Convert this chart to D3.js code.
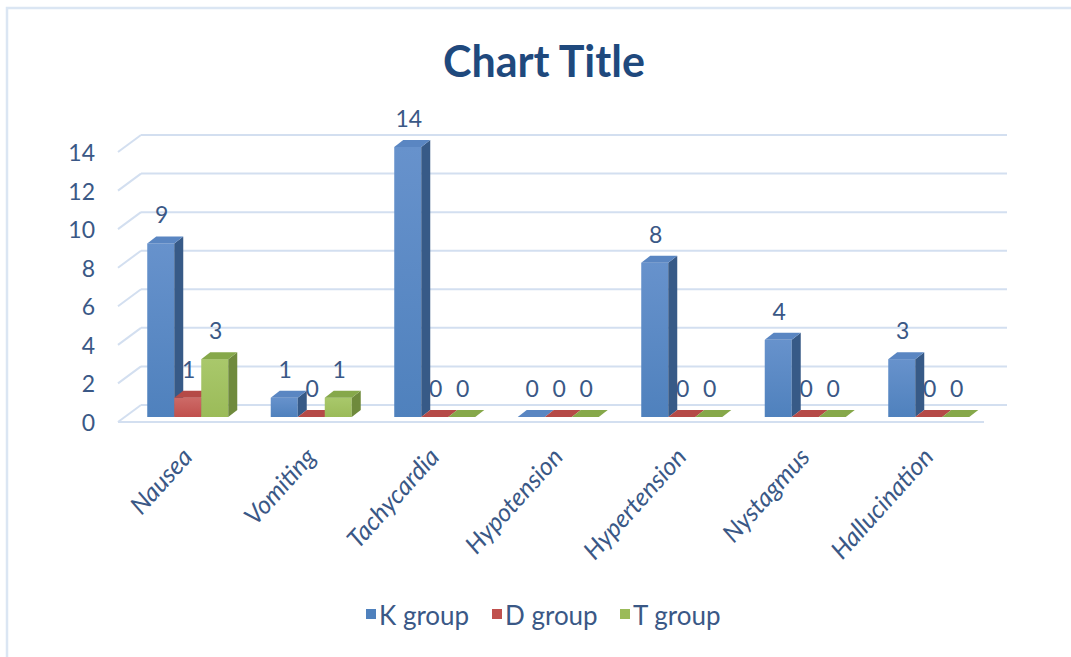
<!DOCTYPE html>
<html>
<head>
<meta charset="utf-8">
<script src="https://cdn.jsdelivr.net/npm/d3@7"></script>
<style>
  body { margin: 0; background: #fff; }
  text { font-family: Lato, "Open Sans", sans-serif; }
</style>
</head>
<body>
<div id="graphId"></div>
<script>
var categories = ["Nausea", "Vomiting", "Tachycardia", "Hypotension", "Hypertension", "Nystagmus", "Hallucination"];
var seriesNames = ["K group", "D group", "T group"];
var kGroup = [9, 1, 14, 0, 8, 4, 3];
var dGroup = [1, 0, 0, 0, 0, 0, 0];
var tGroup = [3, 1, 0, 0, 0, 0, 0];
var yTicks = [0, 2, 4, 6, 8, 10, 12, 14];

var wt = 1071;
var ht = 657;
var textColor = "#3a5886";
var gridColor = "#d3dff0";

// front, top and side colours for each series
var colors = [
    {front: "#4f81bd", light: "#6792cc", top: "#5a86c2", side: "#375a87"},
    {front: "#c0504d", light: "#cd6a67", top: "#b54a47", side: "#8c3a38"},
    {front: "#9bbb59", light: "#a9c86b", top: "#86a84a", side: "#6f8a3c"}
];

var values = [kGroup, dGroup, tGroup];

var svg = d3.select("#graphId").append("svg")
    .attr("width", wt)
    .attr("height", ht);

// outer chart border
svg.append("rect")
    .attr("x", 7)
    .attr("y", 8)
    .attr("width", wt + 20)
    .attr("height", ht + 20)
    .attr("fill", "#fff")
    .attr("stroke", "#dbe6f3")
    .attr("stroke-width", 2.5);

svg.append("text")
    .attr("x", 544)
    .attr("y", 77)
    .attr("text-anchor", "middle")
    .attr("fill", "#1f497d")
    .style("font-size", "43px")
    .style("font-weight", "bold")
    .text("Chart Title");

// depth of the walls and of the columns
var wall = {dx: 23, dy: -17};
var col = {dx: 9, dy: -7};
var rowShift = -5;

var y = d3.scaleLinear()
    .domain([0, 14])
    .range([422, 152]);

var x = d3.scaleBand()
    .domain(categories)
    .range([126, 990.5])
    .paddingInner(0.344)
    .paddingOuter(0.172);

var xs = d3.scaleBand()
    .domain(seriesNames)
    .range([0, x.bandwidth()]);

var floorLeft = 118;
var floorRight = 984;

// gridlines: left wall diagonals and back wall lines
var grid = svg.append("g").attr("class", "grid");
yTicks.forEach(function (v) {
    grid.append("line")
        .attr("x1", floorLeft).attr("y1", y(v))
        .attr("x2", floorLeft + wall.dx).attr("y2", y(v) + wall.dy)
        .attr("stroke", gridColor).attr("stroke-width", 2);
    grid.append("line")
        .attr("x1", floorLeft + wall.dx).attr("y1", y(v) + wall.dy)
        .attr("x2", 1007).attr("y2", y(v) + wall.dy)
        .attr("stroke", gridColor).attr("stroke-width", 2);
});
grid.append("line")
    .attr("x1", floorLeft).attr("y1", y(0))
    .attr("x2", floorRight).attr("y2", y(0))
    .attr("stroke", gridColor).attr("stroke-width", 2);

// y axis labels
svg.append("g")
    .selectAll("text")
    .data(yTicks)
    .enter().append("text")
    .attr("x", 95)
    .attr("y", function (d) { return y(d) + 9; })
    .attr("text-anchor", "end")
    .attr("fill", textColor)
    .style("font-size", "23px")
    .text(function (d) { return d; });

// gradients for the column fronts
var defs = svg.append("defs");
colors.forEach(function (c, i) {
    var gr = defs.append("linearGradient")
        .attr("id", "grad" + i)
        .attr("x1", 0).attr("y1", 0).attr("x2", 0).attr("y2", 1);
    gr.append("stop").attr("offset", "0%").attr("stop-color", c.light);
    gr.append("stop").attr("offset", "100%").attr("stop-color", c.front);
});

var bars = [];
categories.forEach(function (cat, ci) {
    seriesNames.forEach(function (s, si) {
        bars.push({cat: cat, series: s, si: si, value: values[si][ci]});
    });
});

// data labels (drawn under the columns, as in the original)
svg.append("g")
    .selectAll("text")
    .data(bars)
    .enter().append("text")
    .attr("x", function (d) { return x(d.cat) + xs(d.series) + xs.bandwidth() / 2 + 1; })
    .attr("y", function (d) { return y(d.value) + rowShift - 20; })
    .attr("text-anchor", "middle")
    .attr("fill", textColor)
    .style("font-size", "23px")
    .text(function (d) { return d.value; });

// columns
var colG = svg.append("g").attr("class", "columns");
bars.forEach(function (d) {
    var x0 = x(d.cat) + xs(d.series);
    var x1 = x0 + xs.bandwidth();
    var top = y(d.value) + rowShift;
    var bottom = y(0) + rowShift;
    var c = colors[d.si];
    var g = colG.append("g");
    if (d.value > 0) {
        g.append("rect")
            .attr("x", x0).attr("y", top)
            .attr("width", x1 - x0).attr("height", bottom - top)
            .attr("fill", "url(#grad" + d.si + ")");
        g.append("polygon")
            .attr("points", [[x1, top], [x1 + col.dx, top + col.dy], [x1 + col.dx, bottom + col.dy], [x1, bottom]].join(" "))
            .attr("fill", c.side);
    }
    g.append("polygon")
        .attr("points", [[x0, top], [x1, top], [x1 + col.dx, top + col.dy], [x0 + col.dx, top + col.dy]].join(" "))
        .attr("fill", c.top);
});

// category labels
svg.append("g")
    .selectAll("text")
    .data(categories)
    .enter().append("text")
    .attr("transform", function (d) {
        return "translate(" + (x(d) + x.bandwidth() / 2 + 6) + ",458) rotate(-48)";
    })
    .attr("text-anchor", "end")
    .attr("fill", textColor)
    .style("font-size", "25px")
    .style("font-style", "italic")
    .text(function (d) { return d; });

// legend
var legendX = [366, 492, 620];
var legend = svg.append("g");
seriesNames.forEach(function (s, i) {
    legend.append("rect")
        .attr("x", legendX[i]).attr("y", 609)
        .attr("width", 10).attr("height", 10)
        .attr("fill", colors[i].front);
    legend.append("text")
        .attr("x", legendX[i] + 13).attr("y", 625)
        .attr("fill", textColor)
        .style("font-size", "26px")
        .text(s);
});
</script>
</body>
</html>
